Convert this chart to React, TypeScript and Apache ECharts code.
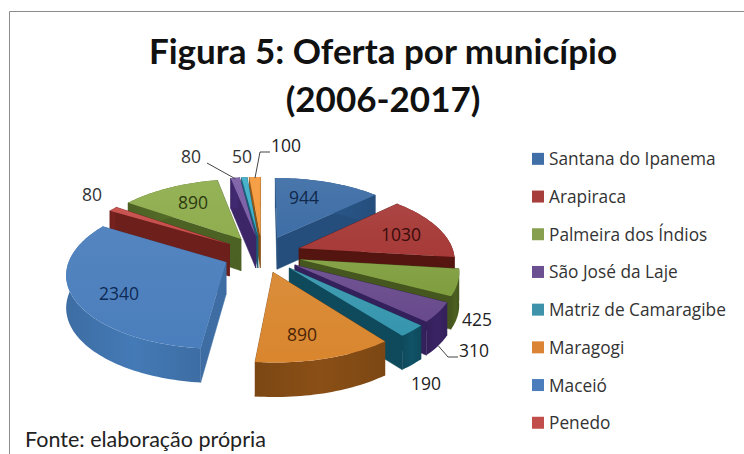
import React, { useEffect, useRef } from "react";
import * as echarts from "echarts";

const TITLE = "Figura 5: Oferta por município\n(2006-2017)";
const SOURCE = "Fonte: elaboração própria";
const NAMES = [
  "Santana do Ipanema", "Arapiraca", "Palmeira dos Índios", "São José da Laje",
  "Matriz de Camaragibe", "Maragogi", "Maceió", "Penedo",
  "Série 9", "Série 10", "Série 11", "Série 12",
];
const VALUES = [944, 1030, 425, 310, 190, 890, 2340, 80, 890, 80, 50, 100];
const LEGEND_NAMES = NAMES.slice(0, 8);
const LEGEND_COLORS = ["#3F6FA6", "#A63F3C", "#87A04F", "#6A5090", "#3E93AB", "#DB8436", "#4B7CBB", "#C24E4B", "#95B553", "#7C5FA6", "#3FAFC8", "#F59A3E"];
const TOP_COLORS = ["#3E6EA6", "#A63A38", "#7F9E3E", "#684A8C", "#3696AE", "#D9862E", "#4A7EBC", "#C64B48", "#8FAE4E", "#7C5FA6", "#3FAFC8", "#F59A3E"];
const SIDE_COLORS = ["#254E7C", "#541510", "#45561E", "#34205A", "#0F4A5C", "#7C4714", "#3D6DA3", "#6D1F1C", "#4C6124", "#3C2668", "#1A5F74", "#8C5518"];
const LABEL_TEXTS = VALUES.map(String);
const LABEL_XY = [[304, 197], [401, 234], [477, 319], [474, 350], [426, 383], [302, 334], [119, 293], [92, 194], [193, 202], [191, 156], [242, 156], [286, 145]];
const LABEL_COLORS = ["#10284a", "#3a0c0a", "#222", "#222", "#222", "#4a2408", "#0e2a55", "#333", "#2c3a10", "#333", "#333", "#222"];
const LEADER_BENDS: Record<number, number[][]> = { 3: [[448, 357], [458, 357]], 9: [[207, 163]], 11: [[260, 152], [270, 152]] };

const CX = 262, CY = 254, RX = 155, RY = 72.1, P = 0.1386, EXPLODE = 0.255, DEPTH = 32;
const TOTAL = VALUES.reduce((a, b) => a + b, 0);
const RAD = (v: number) => (v / TOTAL) * Math.PI * 2;
const STARTS = VALUES.map((_, i) => VALUES.slice(0, i).reduce((s, v) => s + RAD(v), 0));

function project(x: number, y: number, low: boolean) {
  const w = 1 / (1 - P * y);
  return [CX + RX * x * w, CY + RY * y * w + (low ? DEPTH * Math.pow(w, 0.4) : 0)];
}
function slicePoint(i: number, a: number, r: number, low: boolean) {
  const m = STARTS[i] + RAD(VALUES[i]) / 2;
  const ex = EXPLODE * Math.sin(m), ey = -EXPLODE * Math.cos(m);
  return project(ex + r * Math.sin(a), ey - r * Math.cos(a), low);
}
function arc(i: number, low: boolean) {
  const a0 = STARTS[i], a1 = a0 + RAD(VALUES[i]);
  const n = Math.max(4, Math.ceil((a1 - a0) * 40));
  const pts: number[][] = [];
  for (let k = 0; k <= n; k++) pts.push(slicePoint(i, a0 + ((a1 - a0) * k) / n, 1, low));
  return pts;
}
function poly(points: number[][], fill: any) {
  return { type: "polygon", shape: { points }, style: { fill, stroke: typeof fill === "string" ? fill : undefined, lineWidth: 0.5 }, silent: true };
}
function renderSlice(i: number) {
  const top = arc(i, false), low = arc(i, true);
  const a0t = slicePoint(i, 0, 0, false), a0l = slicePoint(i, 0, 0, true);
  const side = SIDE_COLORS[i];
  const wallGrad = new echarts.graphic.LinearGradient(0, 0, 1, 0, [
    { offset: 0, color: side },
    { offset: 0.5, color: echarts.color.lift(side, -0.12) as string },
    { offset: 1, color: side },
  ]);
  const topGrad = new echarts.graphic.LinearGradient(0, 0, 0, 1, [
    { offset: 0, color: echarts.color.lift(TOP_COLORS[i], 0.06) as string },
    { offset: 1, color: TOP_COLORS[i] },
  ]);
  const children: any[] = [
    poly([a0t, top[0], low[0], a0l], side),
    poly([a0t, top[top.length - 1], low[low.length - 1], a0l], side),
    poly([...top, ...low.slice().reverse()], wallGrad),
    poly([a0t, ...top], topGrad),
  ];
  return { type: "group", children };
}
function labelOf(i: number) {
  const [x, y] = LABEL_XY[i];
  const out: any[] = [{
    type: "text", x, y, silent: true,
    style: { text: LABEL_TEXTS[i], fill: LABEL_COLORS[i], font: '17.5px "Open Sans"', align: "center", verticalAlign: "middle" },
  }];
  const bends = LEADER_BENDS[i];
  if (bends) {
    const m = STARTS[i] + RAD(VALUES[i]) / 2;
    out.push({
      type: "polyline", silent: true,
      shape: { points: [slicePoint(i, m, i === 3 ? 1 : 0.98, i === 3), ...bends] },
      style: { stroke: "#444", lineWidth: 1, fill: "none" },
    });
  }
  return out;
}
const depthRank = VALUES.map((v, i) => {
  const m = STARTS[i] + RAD(v) / 2;
  return -Math.cos(m) * EXPLODE - Math.cos(m) * 0.5;
});
const order = VALUES.map((_, i) => i).sort((a, b) => depthRank[a] - depthRank[b]);

export default function App() {
  const ref = useRef<HTMLDivElement>(null);
  useEffect(() => {
    document.body.style.margin = "0";
    const chart = echarts.init(ref.current!, undefined, { renderer: "svg" });
    chart.setOption({
      animation: false,
      backgroundColor: "#fff",
      title: {
        text: TITLE, left: 378, top: 21, textAlign: "center",
        textStyle: { fontFamily: "Lato", fontWeight: "bold", fontSize: 35, lineHeight: 48, color: "#111" },
      },
      legend: {
        orient: "vertical", left: 527, top: 145, data: LEGEND_NAMES, icon: "rect",
        itemWidth: 12, itemHeight: 12, itemGap: 20, selectedMode: false,
        textStyle: { fontFamily: "Open Sans", fontSize: 17.3, color: "#333", lineHeight: 17.7 },
      },
      graphic: [
        { type: "rect", shape: { x: 9.5, y: 11.5, width: 800, height: 500 }, style: { fill: "none", stroke: "#8c8c8c", lineWidth: 1 }, silent: true },
        { type: "text", x: 25, y: 439, style: { text: SOURCE, font: '21.5px "Lato"', fill: "#222", verticalAlign: "middle" }, silent: true },
      ],
      series: NAMES.map((name, i) => ({
        type: "custom",
        name,
        coordinateSystem: "none",
        z: 2 + order.indexOf(i),
        itemStyle: { color: LEGEND_COLORS[i] },
        data: [[VALUES[i]]],
        renderItem: () => renderSlice(i),
      })).concat([{
        type: "custom", name: "rótulos", coordinateSystem: "none", z: 40,
        itemStyle: { color: "#000" }, data: VALUES.map((v) => [v]),
        renderItem: (p: any) => ({ type: "group", children: labelOf(p.dataIndex) }),
      } as any]),
    });
    return () => chart.dispose();
  }, []);
  return <div ref={ref} style={{ width: 744, height: 454 }} />;
}
